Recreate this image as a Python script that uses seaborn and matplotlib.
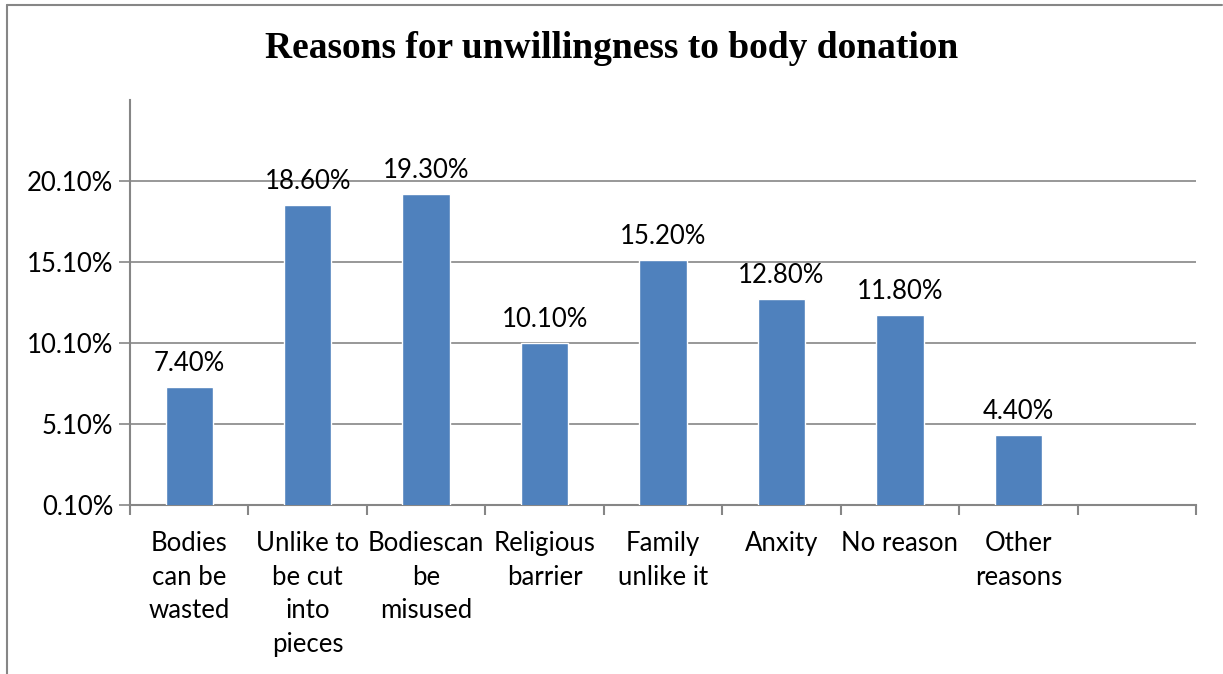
import matplotlib
matplotlib.use("Agg")
import matplotlib.pyplot as plt
from matplotlib.lines import Line2D
import seaborn as sns
import pandas as pd

categories = ["Bodies\ncan be\nwasted", "Unlike to\nbe cut\ninto\npieces", "Bodiescan\nbe\nmisused",
              "Religious\nbarrier", "Family\nunlike it", "Anxity", "No reason", "Other\nreasons", ""]
values = [7.4, 18.6, 19.3, 10.1, 15.2, 12.8, 11.8, 4.4, 0.0]
labels = ["7.40%", "18.60%", "19.30%", "10.10%", "15.20%", "12.80%", "11.80%", "4.40%", ""]
yticks = [0.1, 5.1, 10.1, 15.1, 20.1]
yticklabels = ["0.10%", "5.10%", "10.10%", "15.10%", "20.10%"]
title = "Reasons for unwillingness to body donation"

sns.set_theme(style="white")
plt.rcParams['font.family'] = ['Lato', 'DejaVu Sans']

df = pd.DataFrame({"cat": categories, "val": values})

fig = plt.figure(figsize=(12.23, 6.74), dpi=100)
ax = fig.add_axes([130/1223, 1-505/674, (1196-130)/1223, (505-100)/674])

sns.barplot(data=df, x="cat", y="val", color="#4F81BD", saturation=1, width=0.4, ax=ax, zorder=3)

FS = 18.5
ax.set_ylim(0.1, 25.1)
ax.set_xlim(-0.5, len(categories) - 0.5)
ax.set_yticks(yticks)
ax.set_yticklabels(yticklabels, fontsize=FS, color="black")
ax.set_xticks(range(len(categories)))
ax.set_xticklabels(categories, fontsize=FS, linespacing=1.42, va="top", color="black")
ax.set_xlabel("")
ax.set_ylabel("")

for y in yticks[1:]:
    ax.axhline(y, color="#868686", lw=1.2, zorder=1)

for s in ["top", "right"]:
    ax.spines[s].set_visible(False)
for s in ["left", "bottom"]:
    ax.spines[s].set_color("#868686")
    ax.spines[s].set_linewidth(1.5)

ax.tick_params(axis="y", which="major", length=8, width=1.2, color="#868686", direction="out", left=True, pad=4)
ax.tick_params(axis="x", which="major", length=0, pad=19)
ax.set_xticks([i - 0.5 for i in range(len(categories) + 1)], minor=True)
ax.tick_params(axis="x", which="minor", length=7, width=1.5, color="#868686", direction="out", bottom=True)

for i, (v, lab) in enumerate(zip(values, labels)):
    if lab:
        ax.annotate(lab, (i, v), xytext=(0, 8), textcoords="offset points",
                    ha="center", va="bottom", fontsize=FS, color="black")

fig.text(0.5, 1-48/674, title, ha="center", va="center", fontsize=27, fontweight="bold",
         family="Liberation Serif", color="black")

fig.add_artist(Line2D([7/1223, 1222/1223], [1-5/674, 1-5/674], color="#868686", lw=1.5, transform=fig.transFigure))
fig.add_artist(Line2D([7/1223, 7/1223], [0, 1-5/674], color="#868686", lw=1.5, transform=fig.transFigure))

fig.savefig("out.png", dpi=100)
